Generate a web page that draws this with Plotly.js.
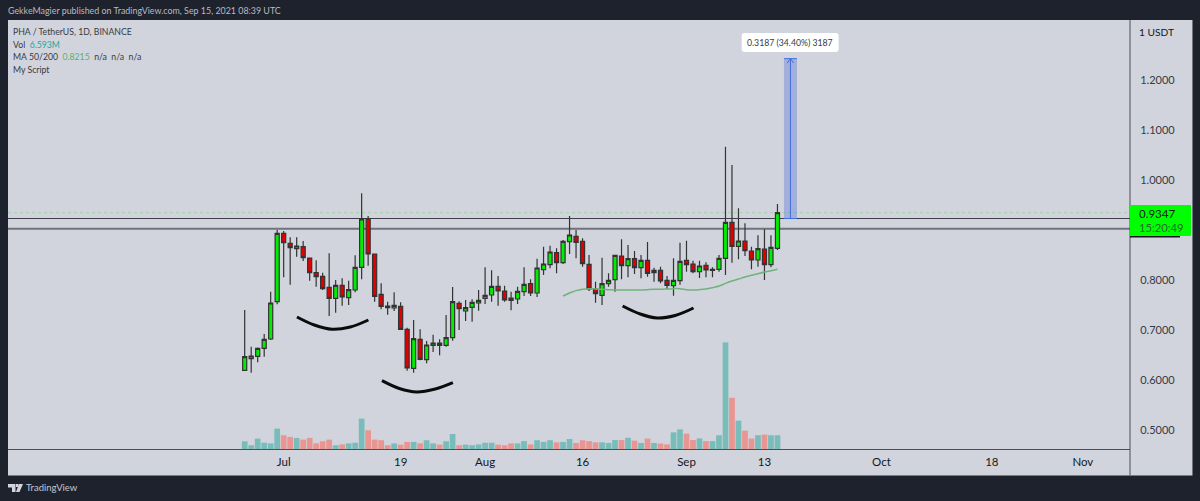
<!DOCTYPE html>
<html>
<head>
<meta charset="utf-8">
<script src="https://cdn.plot.ly/plotly-3.0.1.min.js"></script>
<style>
html, body { margin: 0; padding: 0; background: #1e222d; }
#plot { width: 1200px; height: 501px; }
</style>
</head>
<body>
<div id="plot"></div>
<script>
const dates = [
    '2021-06-25', '2021-06-26', '2021-06-27', '2021-06-28', '2021-06-29', '2021-06-30',
    '2021-07-01', '2021-07-02', '2021-07-03', '2021-07-04', '2021-07-05', '2021-07-06', '2021-07-07',
    '2021-07-08', '2021-07-09', '2021-07-10', '2021-07-11', '2021-07-12', '2021-07-13', '2021-07-14',
    '2021-07-15', '2021-07-16', '2021-07-17', '2021-07-18', '2021-07-19', '2021-07-20', '2021-07-21',
    '2021-07-22', '2021-07-23', '2021-07-24', '2021-07-25', '2021-07-26', '2021-07-27', '2021-07-28',
    '2021-07-29', '2021-07-30', '2021-07-31',
    '2021-08-01', '2021-08-02', '2021-08-03', '2021-08-04', '2021-08-05', '2021-08-06', '2021-08-07',
    '2021-08-08', '2021-08-09', '2021-08-10', '2021-08-11', '2021-08-12', '2021-08-13', '2021-08-14',
    '2021-08-15', '2021-08-16', '2021-08-17', '2021-08-18', '2021-08-19', '2021-08-20', '2021-08-21',
    '2021-08-22', '2021-08-23', '2021-08-24', '2021-08-25', '2021-08-26', '2021-08-27', '2021-08-28',
    '2021-08-29', '2021-08-30', '2021-08-31',
    '2021-09-01', '2021-09-02', '2021-09-03', '2021-09-04', '2021-09-05', '2021-09-06', '2021-09-07',
    '2021-09-08', '2021-09-09', '2021-09-10', '2021-09-11', '2021-09-12', '2021-09-13', '2021-09-14',
    '2021-09-15',
];

const open = [
    0.6193, 0.6427, 0.6473, 0.6633, 0.682, 0.7567, 0.8933, 0.8733, 0.8627, 0.8667, 0.844, 0.8147, 0.8073,
    0.7853, 0.7633, 0.7893, 0.7647, 0.78, 0.8253, 0.9227, 0.852, 0.7713, 0.748, 0.744, 0.7473, 0.7013, 0.6233,
    0.6813, 0.6407, 0.6693, 0.674, 0.6693, 0.6847, 0.7533, 0.738, 0.7453, 0.754,
    0.7633, 0.77, 0.7873, 0.778, 0.764, 0.762, 0.7767, 0.7927, 0.774, 0.8207, 0.8307, 0.8547, 0.8347, 0.8767,
    0.8873, 0.8773, 0.8313, 0.782, 0.7693, 0.7927, 0.8007, 0.848, 0.8287, 0.8427, 0.8247, 0.8393, 0.8147, 0.8193,
    0.7993, 0.7887, 0.7987,
    0.8393, 0.832, 0.8167, 0.8293, 0.8193, 0.8213, 0.8433, 0.9153, 0.8673, 0.878, 0.858, 0.84, 0.862, 0.8307,
    0.8633,
];
const high = [
    0.74, 0.6667, 0.665, 0.692, 0.7767, 0.9, 0.898, 0.8853, 0.8853, 0.878, 0.8447, 0.8393, 0.8147,
    0.8533, 0.8, 0.8033, 0.7987, 0.8493, 0.9733, 0.928, 0.852, 0.7933, 0.7567, 0.7753, 0.7553, 0.7047, 0.72,
    0.7013, 0.678, 0.6907, 0.6813, 0.73, 0.786, 0.7573, 0.76, 0.7613, 0.78,
    0.8253, 0.8193, 0.808, 0.7887, 0.7767, 0.7867, 0.8253, 0.8013, 0.8427, 0.8667, 0.8687, 0.8633, 0.88, 0.928,
    0.9, 0.8833, 0.85, 0.7967, 0.8447, 0.8133, 0.85, 0.8813, 0.87, 0.858, 0.85, 0.876, 0.8247, 0.8267,
    0.808, 0.8433, 0.8747,
    0.8787, 0.8387, 0.8387, 0.8353, 0.8253, 0.85, 1.0667, 1.03, 0.9433, 0.9133, 0.8667, 0.8893, 0.9013, 0.8893,
    0.952,
];
const low = [
    0.618, 0.6147, 0.6353, 0.6467, 0.68, 0.7513, 0.8053, 0.7907, 0.8467, 0.838, 0.7987, 0.7867, 0.78,
    0.728, 0.7347, 0.7487, 0.75, 0.7753, 0.8013, 0.8287, 0.7567, 0.7413, 0.7307, 0.738, 0.7, 0.6187, 0.6147,
    0.6393, 0.6333, 0.656, 0.6493, 0.6667, 0.6787, 0.7, 0.718, 0.7167, 0.7387,
    0.752, 0.7567, 0.7487, 0.7567, 0.7393, 0.752, 0.768, 0.768, 0.766, 0.81, 0.8233, 0.8133, 0.832, 0.852,
    0.8433, 0.8267, 0.778, 0.7547, 0.75, 0.7867, 0.7767, 0.8013, 0.8053, 0.812, 0.8033, 0.8067, 0.7967, 0.7933,
    0.7813, 0.7687, 0.7907,
    0.8167, 0.8133, 0.804, 0.8053, 0.8053, 0.8167, 0.81, 0.8347, 0.8413, 0.848, 0.8213, 0.8267, 0.8, 0.8253,
    0.86,
];
const close = [
    0.6467, 0.648, 0.6633, 0.6813, 0.754, 0.8933, 0.8747, 0.8647, 0.868, 0.8447, 0.8147, 0.8067, 0.7827,
    0.7633, 0.7893, 0.766, 0.7807, 0.8253, 0.922, 0.852, 0.7673, 0.7473, 0.7447, 0.7493, 0.7013, 0.624, 0.6827,
    0.6413, 0.67, 0.674, 0.6693, 0.6847, 0.7567, 0.7427, 0.7447, 0.7553, 0.7593,
    0.7693, 0.7873, 0.778, 0.76, 0.7593, 0.7773, 0.7913, 0.774, 0.824, 0.832, 0.856, 0.8347, 0.8773, 0.89,
    0.8753, 0.8327, 0.782, 0.7727, 0.7927, 0.7993, 0.8493, 0.8287, 0.8427, 0.8247, 0.8393, 0.8133, 0.8193, 0.798,
    0.7893, 0.7993, 0.8373,
    0.8307, 0.8167, 0.828, 0.82, 0.8213, 0.8433, 0.9153, 0.8673, 0.878, 0.8587, 0.84, 0.8627, 0.8307, 0.8653,
    0.9347,
];

// volume in millions, last value is the 6.593M from the legend
const volume = [
    3.7, 1.8, 5.0, 3.0, 2.7, 9.8, 6.6, 5.8, 5.3, 4.5, 5.3, 2.7, 3.7,
    4.5, 1.8, 2.2, 2.7, 3.0, 14.6, 9.0, 4.5, 4.2, 1.8, 2.7, 2.1, 3.4, 3.4,
    2.7, 4.2, 2.7, 2.1, 3.7, 7.2, 1.8, 2.1, 1.8, 2.2,
    3.0, 3.0, 2.1, 1.8, 2.7, 2.7, 3.8, 2.2, 4.2, 3.4, 4.2, 3.2, 3.4, 4.8,
    2.9, 4.2, 3.8, 3.2, 3.2, 2.9, 4.3, 4.3, 5.4, 4.0, 2.9, 5.0, 2.9, 2.6,
    2.2, 8.0, 9.4,
    7.4, 4.3, 5.1, 3.8, 3.8, 6.6, 51.2, 24.6, 13.6, 8.8, 5.0, 6.6, 6.9, 6.6,
    6.593,
];

const maDates = dates.slice(49);
const maValues = [
    0.768, 0.774, 0.7787, 0.7813, 0.7827, 0.782, 0.7813, 0.7807, 0.78, 0.78, 0.78, 0.78, 0.78, 0.7807,
    0.7813, 0.7813, 0.782, 0.7827, 0.7827, 0.7807, 0.78, 0.7807, 0.782, 0.7847, 0.788, 0.7933, 0.798,
    0.802, 0.806, 0.8093, 0.8127, 0.816, 0.8187, 0.8215,
];

// hand drawn smiles under the lows
const arc1Dates = ['2021-07-03 01:00', '2021-07-05 17:00', '2021-07-08 11:00', '2021-07-11 06:00', '2021-07-14 01:00'];
const arc1Prices = [0.726, 0.71, 0.7014, 0.706, 0.72];
const arc2Dates = ['2021-07-16 03:00', '2021-07-18 19:00', '2021-07-21 12:00', '2021-07-24 08:00', '2021-07-27 01:00'];
const arc2Prices = [0.5986, 0.583, 0.576, 0.582, 0.5946];
const arc3Dates = ['2021-08-22 04:00', '2021-08-24 21:00', '2021-08-27 11:00', '2021-08-30 06:00', '2021-09-02 02:00'];
const arc3Prices = [0.748, 0.732, 0.724, 0.729, 0.744];

const timeTickVals = ['2021-07-01', '2021-07-19', '2021-08-01', '2021-08-16', '2021-09-01', '2021-09-13', '2021-10-01', '2021-10-18', '2021-11-01'];
const timeTickText = ['Jul', '19', 'Aug', '16', 'Sep', '13', 'Oct', '18', 'Nov'];
const priceTickVals = [1.2, 1.1, 1.0, 0.8, 0.7, 0.6, 0.5];
const priceTickText = ['1.2000', '1.1000', '1.0000', '0.8000', '0.7000', '0.6000', '0.5000'];

const lastPrice = 0.9347;
const levelUpper = 0.923;
const levelLower = 0.9027;
const measureTop = 1.2427;

const W = 1200;
const H = 501;
const margin = { l: 7.5, r: 70, t: 20, b: 52 };
const textFont = 'Lato, sans-serif';
const paperX = (px) => (px - margin.l) / (W - margin.l - margin.r);
const paperY = (py) => (H - margin.b - py) / (H - margin.t - margin.b);

const pxRect = (x0, y0, x1, y1, color, layer) => ({
    type: 'rect', xref: 'paper', yref: 'paper', layer: layer || 'below',
    x0: paperX(x0), x1: paperX(x1), y0: paperY(y0), y1: paperY(y1),
    fillcolor: color, line: { width: 0 },
});
const pxPoly = (pts, color) => ({
    type: 'path', xref: 'paper', yref: 'paper', layer: 'above',
    path: 'M' + pts.map((p) => paperX(p[0]) + ',' + paperY(p[1])).join('L') + 'Z',
    fillcolor: color, line: { width: 0 },
});
const pxRound = (x0, y0, x1, y1, r, color) => {
    const p = (x, y) => paperX(x) + ',' + paperY(y);
    return {
        type: 'path', xref: 'paper', yref: 'paper', layer: 'above',
        path: 'M' + p(x0 + r, y0) + 'L' + p(x1 - r, y0) + 'Q' + p(x1, y0) + ' ' + p(x1, y0 + r)
            + 'L' + p(x1, y1 - r) + 'Q' + p(x1, y1) + ' ' + p(x1 - r, y1)
            + 'L' + p(x0 + r, y1) + 'Q' + p(x0, y1) + ' ' + p(x0, y1 - r)
            + 'L' + p(x0, y0 + r) + 'Q' + p(x0, y0) + ' ' + p(x0 + r, y0) + 'Z',
        fillcolor: color, line: { width: 0 },
    };
};
const hLevel = (price, color, width, dash) => ({
    type: 'line', xref: 'paper', x0: 0, x1: 1, yref: 'y', y0: price, y1: price,
    layer: 'below', line: { color: color, width: width, dash: dash || 'solid' },
});
const pxLabel = (px, py, text, size, color, anchor) => ({
    xref: 'paper', yref: 'paper', x: paperX(px - 2), y: paperY(py), text: text, showarrow: false,
    xanchor: anchor || 'left', yanchor: 'middle', align: 'left',
    font: { family: textFont, size: size, color: color },
});

const upFill = '#00ee00';
const downFill = '#e00000';
const volColors = close.map((c, i) => (c >= open[i] ? '#78bdb9' : '#e99591'));

const volumeTrace = {
    type: 'bar', x: dates, y: volume, yaxis: 'y2',
    marker: { color: volColors, line: { width: 0 } },
    hoverinfo: 'skip',
};
const candles = {
    type: 'candlestick', x: dates, open: open, high: high, low: low, close: close,
    increasing: { line: { color: '#333333', width: 1.2 }, fillcolor: upFill },
    decreasing: { line: { color: '#333333', width: 1.2 }, fillcolor: downFill },
    whiskerwidth: 0,
    hoverinfo: 'skip',
};
const maLine = {
    type: 'scatter', mode: 'lines', x: maDates, y: maValues,
    line: { color: '#6fb37a', width: 1.5, shape: 'spline' },
    hoverinfo: 'skip',
};
const arcTrace = (xs, ys) => ({
    type: 'scatter', mode: 'lines', x: xs, y: ys,
    line: { color: '#0b0b0b', width: 3, shape: 'spline' },
    hoverinfo: 'skip',
});

const bandFrom = '2021-09-16';
const bandMid = '2021-09-17';
const bandTo = '2021-09-18';
const blue = '#3f6fe0';

const layout = {
    width: W,
    height: H,
    margin: margin,
    paper_bgcolor: '#1e222d',
    plot_bgcolor: '#d1d4dc',
    showlegend: false,
    dragmode: false,
    hovermode: false,
    bargap: 0.12,
    boxgap: 0.1,
    xaxis: {
        type: 'date',
        range: ['2021-05-19 13:40', '2021-11-08 06:15'],
        rangeslider: { visible: false },
        showgrid: false,
        zeroline: false,
        showline: false,
        tickmode: 'array',
        tickvals: timeTickVals,
        ticktext: timeTickText,
        ticks: 'outside',
        ticklen: 2,
        tickcolor: 'rgba(0,0,0,0)',
        tickfont: { family: textFont, size: 11.5, color: '#131722' },
    },
    yaxis: {
        range: [0.462, 1.32],
        side: 'right',
        showgrid: false,
        zeroline: false,
        showline: false,
        tickmode: 'array',
        tickvals: priceTickVals,
        ticktext: priceTickText,
        ticks: 'outside',
        ticklen: 7,
        tickcolor: 'rgba(0,0,0,0)',
        tickfont: { family: textFont, size: 11, color: '#363a45' },
    },
    yaxis2: {
        overlaying: 'y',
        range: [0, 206],
        visible: false,
    },
    shapes: [
        // right price pane and bottom time pane
        pxRect(1130, 20, 1192.5, 475.5, '#d1d4dc'),
        pxRect(7.5, 449, 1130, 475.5, '#d1d4dc'),
        hLevel(lastPrice, '#a6d0ab', 1, 'dot'),
        hLevel(levelUpper, '#3c3f48', 1),
        hLevel(levelLower, '#70737c', 2),
        pxRect(7.5, 449, 1130, 450, '#4a4e59', 'above'),
        pxRect(1129.5, 20, 1130.5, 475.5, '#4a4e59', 'above'),
        // measure tool
        {
            type: 'rect', xref: 'x', yref: 'y', layer: 'above',
            x0: bandFrom, x1: bandTo, y0: levelUpper, y1: measureTop,
            fillcolor: 'rgba(50,90,215,0.3)', line: { width: 0 },
        },
        { type: 'line', xref: 'x', yref: 'y', layer: 'above', x0: bandMid, x1: bandMid, y0: levelUpper, y1: measureTop, line: { color: blue, width: 1 } },
        { type: 'line', xref: 'x', yref: 'y', layer: 'above', x0: bandFrom, x1: bandTo, y0: levelUpper, y1: levelUpper, line: { color: blue, width: 1 } },
        { type: 'line', xref: 'x', yref: 'y', layer: 'above', x0: bandFrom, x1: bandTo, y0: measureTop, y1: measureTop, line: { color: blue, width: 1 } },
        { type: 'line', xref: 'x', yref: 'y', layer: 'above', x0: '2021-09-16 12:00', x1: bandMid, y0: 1.234, y1: measureTop, line: { color: blue, width: 1 } },
        { type: 'line', xref: 'x', yref: 'y', layer: 'above', x0: '2021-09-17 12:00', x1: bandMid, y0: 1.234, y1: measureTop, line: { color: blue, width: 1 } },
        pxRound(741.5, 33, 838.5, 52, 3, '#ffffff'),
        // last price tag
        pxRect(1130, 205, 1191, 236, '#00ff00', 'above'),
        pxRect(1130, 236, 1180, 237.5, '#131722', 'above'),
        // TradingView mark
        pxPoly([[7.5, 484], [15, 484], [15, 492], [11.5, 492], [11.5, 487.5], [7.5, 487.5]], '#d1d4dc'),
        pxPoly([[15.5, 484], [18, 484], [18, 487], [15.5, 487]], '#d1d4dc'),
        pxPoly([[18.5, 484], [22.5, 484], [19, 492], [15.5, 492]], '#d1d4dc'),
    ],
    annotations: [
        pxLabel(7, 11, 'GekkeMagier published on TradingView.com, Sep 15, 2021 08:39 UTC', 8.9, '#b8bbc4'),
        pxLabel(13, 31, 'PHA / TetherUS, 1D, BINANCE', 8.7, '#363a45'),
        pxLabel(13, 44, 'Vol  <span style="color:#26a69a">6.593M</span>', 8.7, '#363a45'),
        pxLabel(13, 56, 'MA 50/200  <span style="color:#5fb06a">0.8215</span>  n/a  n/a  n/a', 8.7, '#363a45'),
        pxLabel(13, 69, 'My Script', 8.7, '#363a45'),
        pxLabel(1139, 32, '1 USDT', 10.2, '#131722'),
        pxLabel(1139, 213, '0.9347', 11.5, '#131722'),
        pxLabel(1139, 227.5, '15:20:49', 11.2, '#1f6b2a'),
        pxLabel(26, 488, 'TradingView', 9.5, '#c4c7cf'),
        {
            xref: 'paper', yref: 'paper', x: paperX(790), y: paperY(42.5),
            text: '0.3187 (34.40%) 3187', showarrow: false, xanchor: 'center', yanchor: 'middle',
            font: { family: textFont, size: 8.7, color: '#363a45' },
        },
    ],
};

const config = { displayModeBar: false, staticPlot: true };

Plotly.newPlot('plot', [
    volumeTrace,
    candles,
    maLine,
    arcTrace(arc1Dates, arc1Prices),
    arcTrace(arc2Dates, arc2Prices),
    arcTrace(arc3Dates, arc3Prices),
], layout, config);
</script>
</body>
</html>
